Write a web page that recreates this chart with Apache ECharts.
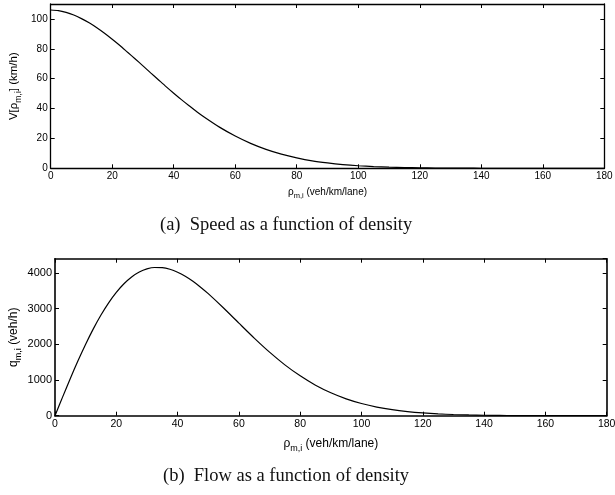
<!DOCTYPE html>
<html><head><meta charset="utf-8">
<script src="https://cdn.jsdelivr.net/npm/echarts@6/dist/echarts.min.js"></script>
<style>html,body{margin:0;padding:0;background:#fff}#c{width:615px;height:495px}</style>
</head><body><div id="c"></div>
<script>
// density samples (veh/km/lane)
const density = [0,2.5,5,7.5,10,12.5,15,17.5,20,22.5,25,27.5,30,32.5,35,37.5,40,42.5,45,47.5,50,55,60,65,70,75,80,85,90,95,100,105,110,115,120,125,130,135,140,145,150,155,160,165,170,175,180];
// speed, km/h
const speed = [106,105.6,104.4,102.6,100.2,97.4,94.1,90.4,86.4,82.2,77.7,73.2,68.6,63.9,59.3,54.7,50.3,46.0,41.9,37.9,34.2,27.4,21.6,16.7,12.7,9.5,7.0,5.0,3.6,2.5,1.7,1.15,0.77,0.5,0.32,0.2,0.13,0.08,0.05,0.03,0.02,0.01,0.005,0,0,0,0];
// flow, veh/h
const flow = [0,528,1044,1539,2004,2434,2822,3164,3456,3697,3887,4025,4113,4153,4149,4104,4022,3908,3767,3602,3420,3017,2594,2175,1781,1425,1117,855,643,473,342,242,168,115,77,50,33,21,13,8,4.5,2.6,1.4,0.8,0.4,0.2,0.1];
const xTicks = [0,20,40,60,80,100,120,140,160,180];
const captionA = '(a)\u00a0\u00a0Speed as a function of density';
const captionB = '(b)\u00a0\u00a0Flow as a function of density';

const chart = echarts.init(document.getElementById('c'));
const font = 'Liberation Sans, Arial, Helvetica, sans-serif';
function mkRich(fs) {
  return {
    n: {fontSize: fs, lineHeight: fs * 1.6, fontFamily: font, color: '#000'},
    s: {fontSize: fs * 0.75, lineHeight: fs * 0.8, fontFamily: font, color: '#000', verticalAlign: 'bottom'}
  };
}
function xAxisPair(grid, name, lw, fsTick, fsName, gap) {
  const base = {
    type: 'value', gridIndex: grid, min: 0, max: 180, interval: 20,
    axisLine: {show: true, onZero: false, lineStyle: {color: '#000', width: lw}},
    axisTick: {show: true, inside: true, length: 4, lineStyle: {color: '#000', width: 1}},
    splitLine: {show: false}
  };
  return [
    Object.assign({}, base, {position: 'bottom', name: name, nameLocation: 'middle', nameGap: gap,
      nameMoveOverlap: false,
      nameTextStyle: {rich: mkRich(fsName)},
      axisLabel: {show: true, fontSize: fsTick, fontFamily: font, color: '#000', margin: 3, formatter: v => String(v)}}),
    Object.assign({}, base, {position: 'top', axisLabel: {show: false}})
  ];
}
function yAxisPair(grid, name, max, interval, gap, lw, fsTick, fsName) {
  const base = {
    type: 'value', gridIndex: grid, min: 0, max: max, interval: interval,
    axisLine: {show: true, onZero: false, lineStyle: {color: '#000', width: lw}},
    axisTick: {show: true, inside: true, length: 4, lineStyle: {color: '#000', width: 1}},
    splitLine: {show: false}
  };
  return [
    Object.assign({}, base, {position: 'left', name: name, nameLocation: 'middle', nameGap: gap, nameRotate: 90,
      nameMoveOverlap: false,
      nameTextStyle: {rich: mkRich(fsName)},
      axisLabel: {show: true, fontSize: fsTick, fontFamily: font, color: '#000', margin: 3, showMaxLabel: false, formatter: v => String(v)}}),
    Object.assign({}, base, {position: 'right', axisLabel: {show: false}})
  ];
}
const xs = xAxisPair(0, '{n|ρ}{s|m,i}{n| (veh/km/lane)}', 1.3, 10, 10, 16)
  .concat(xAxisPair(1, '{n|ρ}{s|m,i}{n| (veh/km/lane)}', 1.6, 10.5, 12, 18));
const ys = yAxisPair(0, '{n|V[ρ}{s|m,i}{n|] (km/h)}', 110, 20, 28, 1.3, 10, 11.5)
  .concat(yAxisPair(1, '{n|q}{s|m,i}{n| (veh/h)}', 4400, 1000, 32, 1.6, 11, 12));

chart.setOption({
  animation: false,
  backgroundColor: '#fff',
  grid: [
    {left: 50.7, right: 10.7, top: 4, height: 164.3, containLabel: false, outerBoundsMode: 'none'},
    {left: 55, right: 8.3, top: 258.7, height: 157, containLabel: false, outerBoundsMode: 'none'}
  ],
  xAxis: xs,
  yAxis: ys,
  series: [
    {type: 'line', xAxisIndex: 0, yAxisIndex: 0, data: density.map((d, i) => [d, speed[i]]),
      smooth: 0.25, showSymbol: false, lineStyle: {color: '#000', width: 1.2}},
    {type: 'line', xAxisIndex: 2, yAxisIndex: 2, data: density.map((d, i) => [d, flow[i]]),
      smooth: 0.25, showSymbol: false, lineStyle: {color: '#000', width: 1.2}}
  ],
  graphic: [
    {type: 'text', left: 160, top: 216, style: {text: captionA, font: '18.5px "Liberation Serif", "Times New Roman", serif', fill: '#111'}},
    {type: 'text', left: 163, top: 467, style: {text: captionB, font: '18.5px "Liberation Serif", "Times New Roman", serif', fill: '#111'}}
  ]
});
</script></body></html>
